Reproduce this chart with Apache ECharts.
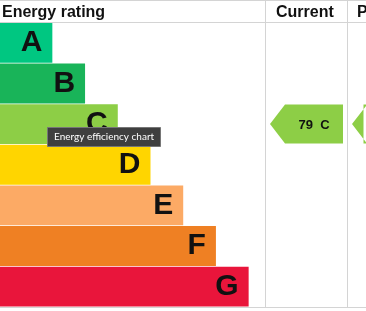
<!DOCTYPE html>
<html>
<head>
<meta charset="utf-8">
<style>
html,body{margin:0;padding:0;background:#fff;}
#chart{width:366px;height:311px;}
</style>
<script src="https://cdn.jsdelivr.net/npm/echarts@6/dist/echarts.min.js"></script>
</head>
<body>
<div id="chart"></div>
<script>
// ---- data ----
var bands = ['A', 'B', 'C', 'D', 'E', 'F', 'G'];
var bandLength = [1.6, 2.6, 3.6, 4.6, 5.6, 6.6, 7.6];
var bandColors = ['#00c781', '#19b459', '#8dce46', '#ffd500', '#fcaa65', '#ef8023', '#e9153b'];
var currentRating = 79;
var currentBand = 'C';
var potentialBand = 'C';
var headers = ['Energy rating', 'Current', 'Potential'];

var chart = echarts.init(document.getElementById('chart'), null, {renderer: 'canvas'});

function arrowItem(withText, rating, band) {
  return function (params, api) {
    var cs = params.coordSys;
    var idx = api.value(1);
    var c = api.coord([0, idx]);
    var h = api.size([0, 1])[1] * 0.96;
    var cy = c[1];
    var tip = cs.x + 5;
    var bodyL = tip + 15;
    var bodyR = cs.x + cs.width - 4;
    var top = cy - h / 2, bot = cy + h / 2;
    var children = [{
      type: 'polygon',
      shape: {points: [[tip, cy], [bodyL, top], [bodyR, top], [bodyR, bot], [bodyL, bot]]},
      style: {fill: bandColors[idx]}
    }];
    if (withText) {
      children.push({
        type: 'text',
        style: {
          text: rating + '  ' + band,
          x: (bodyL + bodyR) / 2, y: cy + 1,
          align: 'center', verticalAlign: 'middle',
          fill: '#111', font: 'bold 13px "Liberation Sans", Arial, sans-serif'
        }
      });
    }
    return {type: 'group', children: children};
  };
}

var lineColor = '#d4d4d4';
var option = {
  animation: false,
  title: {
    text: 'Energy efficiency chart',
    left: 47, top: 127,
    backgroundColor: '#3f3f3f',
    borderColor: '#767676', borderWidth: 1,
    padding: [4, 7, 4, 7],
    textStyle: {color: '#fff', fontSize: 10, lineHeight: 12, fontWeight: 'normal', fontFamily: 'Lato, "Open Sans", sans-serif'},
    z: 20
  },
  grid: [
    {left: 0, top: 22.5, width: 265, height: 284.5},
    {left: 265, top: 22.5, width: 82, height: 284.5},
    {left: 347, top: 22.5, width: 82, height: 284.5}
  ],
  xAxis: [
    {gridIndex: 0, type: 'value', min: 0, max: 8.1, show: false},
    {gridIndex: 1, type: 'value', min: 0, max: 1, show: false},
    {gridIndex: 2, type: 'value', min: 0, max: 1, show: false}
  ],
  yAxis: [0, 1, 2].map(function (g) {
    return {gridIndex: g, type: 'category', data: bands, inverse: true, show: false};
  }),
  series: [
    {
      type: 'bar',
      xAxisIndex: 0, yAxisIndex: 0,
      barCategoryGap: '2%',
      data: bandLength.map(function (v, i) {
        return {value: v, itemStyle: {color: bandColors[i]}};
      }),
      label: {
        show: true,
        position: 'insideRight',
        distance: 10,
        formatter: function (p) { return bands[p.dataIndex]; },
        color: '#111',
        fontSize: 30,
        fontWeight: 'bold',
        fontFamily: '"Liberation Sans", Arial, sans-serif'
      },
      silent: true
    },
    {
      type: 'custom',
      xAxisIndex: 1, yAxisIndex: 1,
      renderItem: arrowItem(true, currentRating, currentBand),
      data: [[0, bands.indexOf(currentBand)]],
      clip: false
    },
    {
      type: 'custom',
      xAxisIndex: 2, yAxisIndex: 2,
      renderItem: arrowItem(false, null, potentialBand),
      data: [[0, bands.indexOf(potentialBand)]],
      clip: false
    }
  ],
  graphic: [
    {type: 'line', shape: {x1: 0, y1: 0.5, x2: 366, y2: 0.5}, style: {stroke: lineColor, lineWidth: 1}, z: -1},
    {type: 'line', shape: {x1: 0, y1: 22.5, x2: 366, y2: 22.5}, style: {stroke: lineColor, lineWidth: 1}, z: -1},
    {type: 'line', shape: {x1: 0, y1: 307.5, x2: 366, y2: 307.5}, style: {stroke: lineColor, lineWidth: 1}, z: -1},
    {type: 'line', shape: {x1: 265.5, y1: 0, x2: 265.5, y2: 307.5}, style: {stroke: lineColor, lineWidth: 1}, z: -1},
    {type: 'line', shape: {x1: 347.5, y1: 0, x2: 347.5, y2: 307.5}, style: {stroke: lineColor, lineWidth: 1}, z: -1},
    {type: 'text', left: 2, top: 5, style: {text: headers[0], fill: '#111', font: 'bold 16px "Liberation Sans", Arial, sans-serif'}},
    {type: 'text', left: 276, top: 5, style: {text: headers[1], fill: '#111', font: 'bold 16px "Liberation Sans", Arial, sans-serif'}},
    {type: 'text', left: 357, top: 5, style: {text: headers[2], fill: '#111', font: 'bold 16px "Liberation Sans", Arial, sans-serif'}}
  ]
};
chart.setOption(option);
</script>
</body>
</html>
